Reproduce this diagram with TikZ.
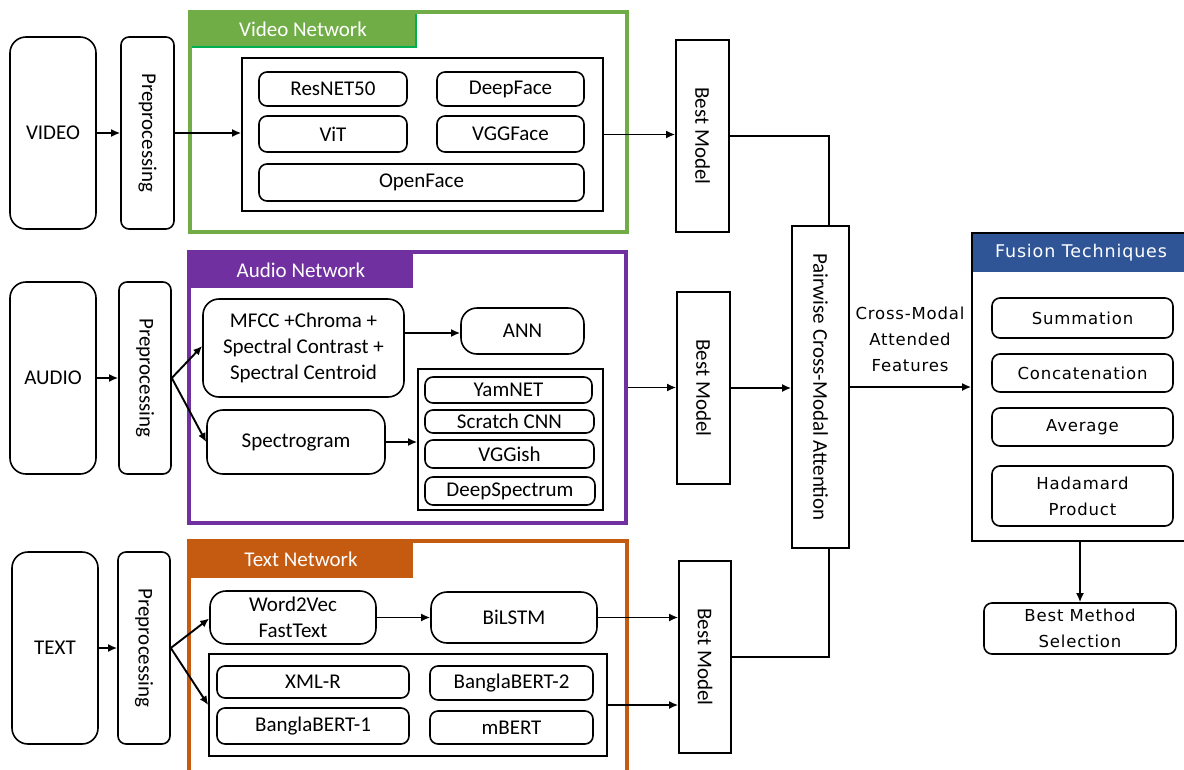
\documentclass[tikz,border=0pt]{standalone}
\usepackage{fontspec}
\setmainfont{Carlito}
\newfontfamily\fusfont[LetterSpace=5]{DejaVu Sans}
\usetikzlibrary{arrows.meta}
\definecolor{vgreen}{HTML}{70AD47}
\definecolor{vgreenb}{HTML}{00B050}
\definecolor{apurple}{HTML}{7030A0}
\definecolor{torange}{HTML}{C55A11}
\definecolor{fblue}{HTML}{2F5597}
\newcommand\bx[7]{\node[#6, minimum width={(#4)-(#2)}, minimum height={(#5)-(#3)}] (#1) at ({((#2)+(#4))/2},{((#3)+(#5))/2}) {#7};}
\tikzset{
  txt/.style={font=\fontsize{21}{26}\selectfont},
  rbox/.style={draw, rounded corners=8pt, line width=1.6pt, inner sep=0pt, align=center, txt},
  bigr/.style={draw, rounded corners=16pt, line width=1.6pt, inner sep=0pt, align=center, txt},
  sbox/.style={draw, line width=1.6pt, inner sep=0pt, align=center, txt},
  rot/.style={rotate=-90, inner sep=0pt, txt},
  frame/.style={line width=3.2pt, inner sep=0pt},
  head/.style={inner sep=0pt, text=white, txt},
  ffont/.style={font=\fusfont\fontsize{16.5}{26}\selectfont},
  fbox/.style={draw, rounded corners=8pt, line width=1.6pt, inner sep=0pt, align=center, ffont},
  arr/.style={line width=1.9pt, -{Latex[length=9pt,width=8pt]}},
  ln/.style={line width=2pt}
}
\begin{document}
\begin{tikzpicture}[x=1pt,y=-1pt]
\useasboundingbox (0,0) rectangle (1184,769);
% ---------------- VIDEO ----------------
\bx{video}{10}{37}{96}{229}{bigr}{VIDEO}
\bx{pre1}{121}{37}{174}{229}{rbox}{}
\node[rot] (pre1t) at (pre1) {Preprocessing};
\bx{vhead}{190}{12}{416}{47}{head, fill=vgreen, draw=vgreenb, line width=2pt}{Video Network}
\bx{vframe}{190}{12}{627}{232}{frame, draw=vgreen}{}
\bx{vinner}{242}{58}{603}{211}{sbox}{}
\bx{resnet}{259}{72}{407}{106}{rbox}{ResNET50}
\bx{deepface}{437}{72}{584}{106}{rbox}{DeepFace}
\bx{vit}{259}{116}{407}{152}{rbox}{ViT}
\bx{vggface}{437}{116}{584}{152}{rbox}{VGGFace}
\bx{openface}{259}{164}{584}{201}{rbox}{OpenFace}
\bx{bm1}{676}{40}{729}{232}{sbox}{}
\node[rot] (bm1t) at (bm1) {Best Model};
% ---------------- AUDIO ----------------
\bx{audio}{10}{282}{96}{474}{bigr}{AUDIO}
\bx{pre2}{119}{282}{171}{474}{rbox}{}
\node[rot] (pre2t) at (pre2) {Preprocessing};
\bx{ahead}{189}{252}{413}{288}{head, fill=apurple}{Audio Network}
\bx{aframe}{189}{252}{626}{523}{frame, draw=apurple}{}
\bx{mfcc}{203}{299}{404}{397}{bigr}{MFCC +Chroma +\\Spectral Contrast +\\Spectral Centroid}
\bx{spec}{207}{410}{385}{474}{bigr}{Spectrogram}
\bx{ann}{461}{308}{584}{354}{bigr}{ANN}
\bx{ainner}{418}{369}{603}{510}{sbox}{}
\bx{yamnet}{425}{377}{592}{403}{rbox}{YamNET}
\bx{scratch}{425}{410}{594}{433}{rbox}{Scratch CNN}
\bx{vggish}{425}{440}{594}{468}{rbox}{VGGish}
\bx{deepspec}{425}{477}{595}{505}{rbox}{DeepSpectrum}
\bx{bm2}{677}{292}{730}{484}{sbox}{}
\node[rot] (bm2t) at (bm2) {Best Model};
% ---------------- TEXT ----------------
\bx{text}{12}{552}{98}{744}{bigr}{TEXT}
\bx{pre3}{118}{552}{170}{744}{rbox}{}
\node[rot] (pre3t) at (pre3) {Preprocessing};
\bx{thead}{189}{541}{413}{578}{head, fill=torange}{Text Network}
\bx{tframe}{189}{541}{627}{780}{frame, draw=torange}{}
\bx{w2v}{210}{591}{376}{644}{bigr}{Word2Vec\\FastText}
\bx{bilstm}{431}{592}{597}{643}{bigr}{BiLSTM}
\bx{tinner}{209}{654}{607}{756}{sbox}{}
\bx{xmlr}{217}{666}{409}{698}{rbox}{XML-R}
\bx{bb2}{430}{666}{593}{700}{rbox}{BanglaBERT-2}
\bx{bb1}{217}{708}{409}{744}{rbox}{BanglaBERT-1}
\bx{mbert}{430}{711}{593}{744}{rbox}{mBERT}
\bx{bm3}{679}{561}{731}{753}{sbox}{}
\node[rot] (bm3t) at (bm3) {Best Model};
% ---------------- ATTENTION + FUSION ----------------
\bx{pw}{792}{226}{849}{548}{sbox}{}
\node[rot] (pwt) at (pw) {Pairwise Cross-Modal Attention};
\bx{fhead}{972}{234}{1190}{272}{inner sep=0pt, fill=fblue, text=white, font=\fusfont\fontsize{17.5}{26}\selectfont}{Fusion Techniques}
\bx{fusion}{972}{233}{1190}{541}{draw, line width=1.6pt, inner sep=0pt}{}
\bx{summ}{992}{298}{1173}{338}{fbox}{Summation}
\bx{conc}{992}{354}{1173}{392}{fbox}{Concatenation}
\bx{avg}{992}{408}{1173}{446}{fbox}{Average}
\bx{hada}{992}{466}{1173}{526}{fbox}{Hadamard\\Product}
\bx{bms}{984}{603}{1176}{654}{fbox}{Best Method\\Selection}
\node[align=center, inner sep=0pt, ffont] (cmaf) at (910,339) {Cross-Modal\\Attended\\Features};
% ---------------- CONNECTORS ----------------
\draw[arr] (video) -- (pre1);
\draw[arr] (pre1.east) -- (vinner.west |- pre1.east);
\draw[arr] (vinner.east) -- (bm1.west |- vinner.east);
\coordinate (vjoin) at ([xshift=8.5pt]pw.north);
\draw[ln] (bm1.east) -| (vjoin);
\draw[arr] (audio) -- (pre2);
\draw[arr] (pre2.east) -- ([yshift=2pt]mfcc.west);
\draw[arr] (pre2.east) -- (spec.west);
\coordinate (mfccout) at ([yshift=15pt]mfcc.east);
\draw[arr] (mfccout) -- (ann.west |- mfccout);
\draw[arr] (spec.east) -- (ainner.west |- spec.east);
\draw[arr] (aframe.east) -- (bm2.west |- aframe.east);
\draw[arr] (bm2.east) -- (pw.west |- bm2.east);
\draw[arr] (pw.east) -- (fusion.west |- pw.east);
\draw[arr] (bms.north |- fusion.south) -- (bms.north);
\draw[arr] (text) -- (pre3);
\draw[arr] (pre3.east) -- ([yshift=-1pt]w2v.west);
\draw[arr] (pre3.east) -- (tinner.west);
\draw[arr] (w2v.east) -- (bilstm.west |- w2v.east);
\draw[arr] (bilstm.east) -- (bm3.west |- bilstm.east);
\draw[arr] (tinner.east) -- (bm3.west |- tinner.east);
\coordinate (tjoin) at ([xshift=8.5pt]pw.south);
\draw[ln] (bm3.east) -| (tjoin);
\end{tikzpicture}
\end{document}
